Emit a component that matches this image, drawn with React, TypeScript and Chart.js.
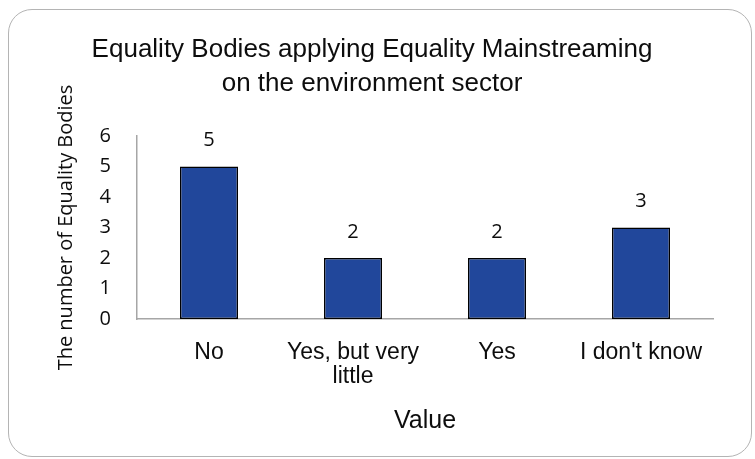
import React, { useEffect, useRef } from 'react';
import { Chart, registerables } from 'chart.js';

Chart.register(...registerables);

const titleLines = ['Equality Bodies applying Equality Mainstreaming', 'on the environment sector'];
const categories: (string | string[])[] = ['No', ['Yes, but very', 'little'], 'Yes', "I don't know"];
const counts = [5, 2, 2, 3];
const yMax = 6;
const yStep = 1;
const yAxisTitle = 'The number of Equality Bodies';
const xAxisTitle = 'Value';

const NARROW = '"Liberation Sans Narrow", "Liberation Sans", Arial, sans-serif';
const WIDE = '"Open Sans", "DejaVu Sans", sans-serif';
const TEXT = '#0d0d0d';
const BAR = '#21479b';
const AXIS = '#a6a6a6';

const dataLabels = {
  id: 'dataLabels',
  afterDatasetsDraw(chart: any) {
    const { ctx } = chart;
    const meta = chart.getDatasetMeta(0);
    const values = chart.data.datasets[0].data;
    ctx.save();
    ctx.font = `20px ${WIDE}`;
    ctx.fillStyle = TEXT;
    ctx.textAlign = 'center';
    ctx.textBaseline = 'middle';
    meta.data.forEach((el: any, i: number) => {
      ctx.fillText(String(values[i]), el.x, el.y - 26);
    });
    ctx.restore();
  },
};

export default function App() {
  const ref = useRef<HTMLCanvasElement | null>(null);

  useEffect(() => {
    if (!ref.current) return;
    const chart = new Chart(ref.current, {
      type: 'bar',
      data: {
        labels: categories,
        datasets: [
          {
            data: counts,
            backgroundColor: BAR,
            borderColor: '#000',
            borderWidth: 1.5,
            borderSkipped: false,
            categoryPercentage: 1,
            barPercentage: 0.403,
          },
        ],
      },
      options: {
        animation: false,
        responsive: false,
        maintainAspectRatio: false,
        layout: { padding: { left: 31, right: 42, top: 0, bottom: 0 } },
        plugins: {
          legend: { display: false },
          tooltip: { enabled: false },
          title: {
            display: true,
            text: titleLines,
            color: TEXT,
            font: { family: NARROW, size: 26, weight: 'normal', lineHeight: 34 / 26 },
            padding: { top: 33, bottom: 35 },
          },
        },
        scales: {
          x: {
            grid: { display: false, drawTicks: false },
            border: { display: true, color: AXIS, width: 1.5 },
            ticks: {
              color: TEXT,
              font: { family: NARROW, size: 23, lineHeight: 24 / 23 },
              padding: 22,
              autoSkip: false,
              maxRotation: 0,
              minRotation: 0,
            },
            title: {
              display: true,
              text: xAxisTitle,
              color: TEXT,
              font: { family: NARROW, size: 25, lineHeight: 1.2 },
              padding: { top: 0, bottom: 23 },
            },
            afterFit(scale: any) {
              scale.height = 140;
            },
          },
          y: {
            min: 0,
            max: yMax,
            grid: { display: false, drawTicks: false },
            border: { display: true, color: AXIS, width: 1.5 },
            ticks: {
              stepSize: yStep,
              color: TEXT,
              font: { family: WIDE, size: 20 },
              padding: 26,
            },
            title: {
              display: true,
              text: yAxisTitle,
              color: TEXT,
              font: { family: WIDE, size: 20, lineHeight: 1.2 },
              padding: { top: 23, bottom: 0 },
            },
            afterFit(scale: any) {
              scale.width = 106;
            },
          },
        },
      },
      plugins: [dataLabels],
    } as any);
    return () => chart.destroy();
  }, []);

  return (
    <div style={{ position: 'absolute', left: 0, top: 0, width: 755, height: 459, background: '#fff' }}>
      <div
        style={{
          position: 'absolute',
          left: 8,
          top: 9,
          width: 744,
          height: 448,
          boxSizing: 'border-box',
          border: '1px solid #b4b4b4',
          borderRadius: 24,
        }}
      />
      <canvas ref={ref} width={755} height={459} style={{ position: 'absolute', left: 0, top: 0, width: 755, height: 459 }} />
    </div>
  );
}
